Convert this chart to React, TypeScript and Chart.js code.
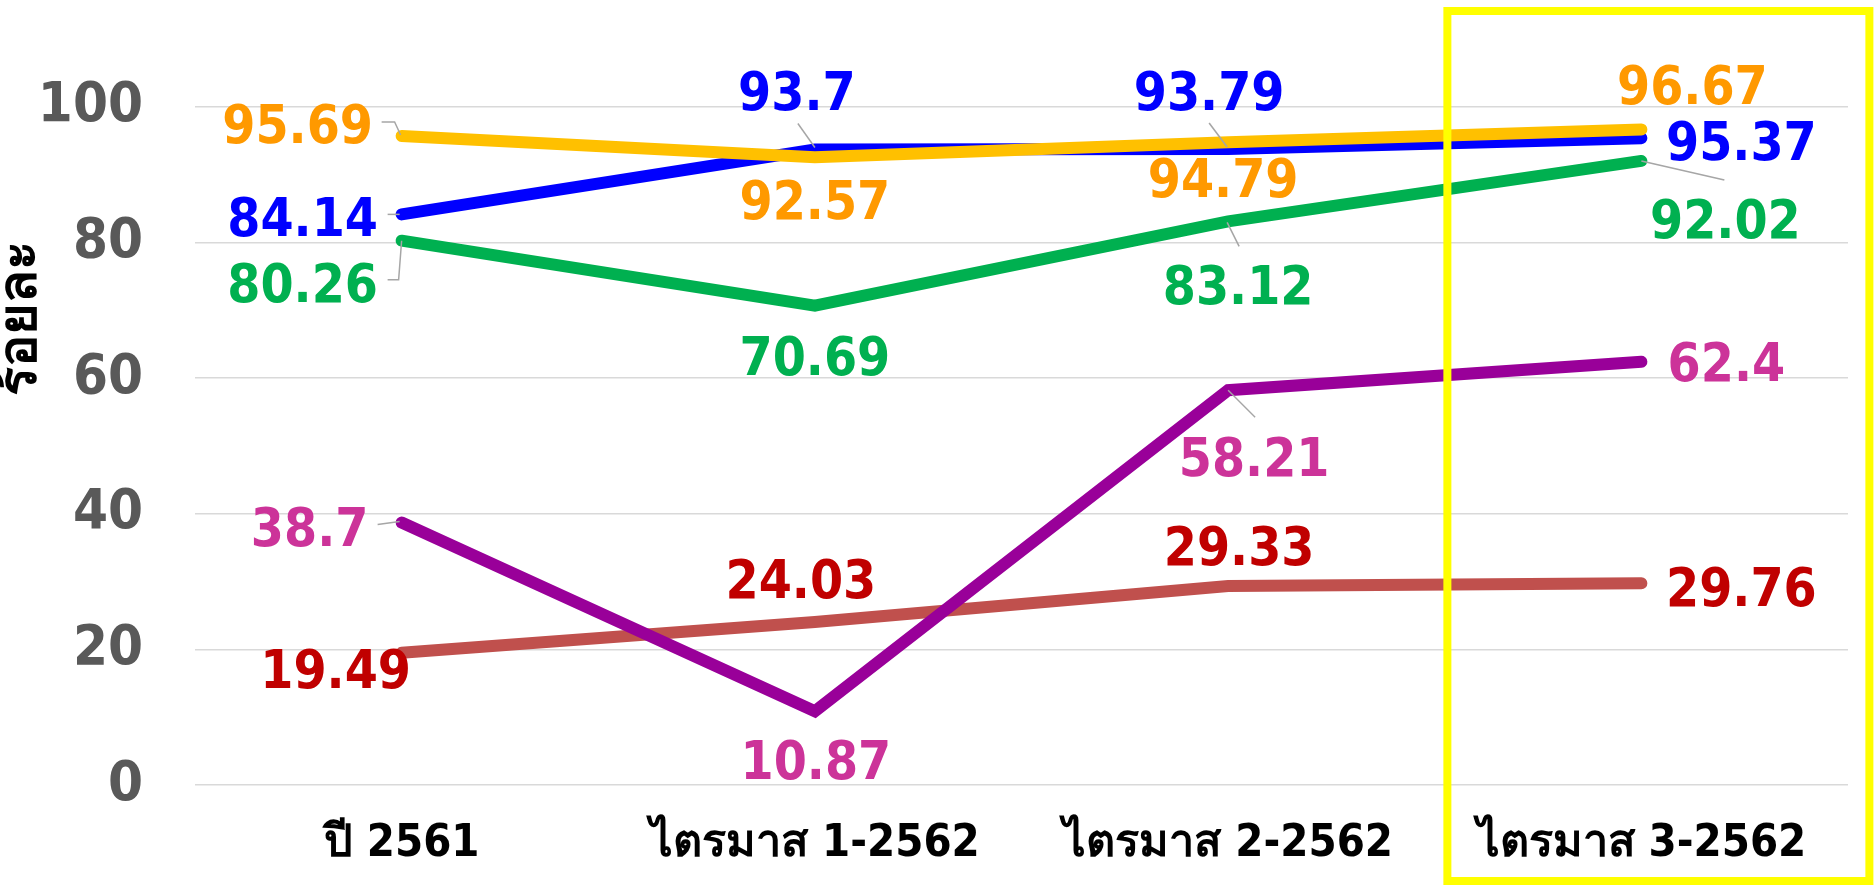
import React, { useEffect, useRef } from "react";
import { Chart, registerables } from "chart.js";

Chart.register(...registerables);

// ---- data ----
const categories = ["ปี 2561", "ไตรมาส 1-2562", "ไตรมาส 2-2562", "ไตรมาส 3-2562"];
const blueValues = [84.14, 93.7, 93.79, 95.37];
const yellowValues = [95.69, 92.57, 94.79, 96.67];
const greenValues = [80.26, 70.69, 83.12, 92.02];
const purpleValues = [38.7, 10.87, 58.21, 62.4];
const redValues = [19.49, 24.03, 29.33, 29.76];
const yTickValues = [0, 20, 40, 60, 80, 100];
const yTitle = "ร้อยละ";

// ---- label placement (pixel offsets from each point) ----
type Off = [number, number];
const blueLabelOffsets: Off[] = [[-99, 2], [-18, -59], [-19, -58], [100, 2]];
const yellowLabelOffsets: Off[] = [[-104, -12], [0, 42], [-5, 36], [51, -45]];
const greenLabelOffsets: Off[] = [[-99, 42], [0, 50], [10, 63], [84, 58]];
const purpleLabelOffsets: Off[] = [[-92, 4], [1, 48], [26, 66], [85, 0]];
const redLabelOffsets: Off[] = [[-66, 16], [-14, -43], [11, -40], [100, 4]];

// leader polylines relative to point (null = none)
const blueLeaders: (Off[] | null)[] = [[[-2, 0], [-14, 0]], [[0, -2], [-17, -26]], [[-1, -2], [-19, -26]], null];
const yellowLeaders: (Off[] | null)[] = [[[-1, -1], [-7, -14], [-20, -14]], null, null, null];
const greenLeaders: (Off[] | null)[] = [[[0, 0], [-3, 39], [-14, 39]], null, [[-1, 1], [11, 25]], [[0, 0], [83, 19]]];
const purpleLeaders: (Off[] | null)[] = [[[-2, -1], [-24, 2]], null, [[0, 0], [27, 27]], null];
const redLeaders: (Off[] | null)[] = [null, null, null, null];

const FAMILY = '"DejaVu Sans Condensed", "DejaVu Sans", sans-serif';

const seriesDefs = [
  { values: yellowValues, line: "#FFC000", label: "#FF9900", offs: yellowLabelOffsets, leaders: yellowLeaders },
  { values: purpleValues, line: "#990099", label: "#CC3399", offs: purpleLabelOffsets, leaders: purpleLeaders },
  { values: blueValues, line: "#0000FF", label: "#0000FF", offs: blueLabelOffsets, leaders: blueLeaders },
  { values: greenValues, line: "#00B050", label: "#00B050", offs: greenLabelOffsets, leaders: greenLeaders },
  { values: redValues, line: "#C0504D", label: "#C00000", offs: redLabelOffsets, leaders: redLeaders },
];

const labelPlugin = {
  id: "customLabels",
  afterDatasetsDraw(chart: any) {
    const ctx = chart.ctx as CanvasRenderingContext2D;
    const xs = chart.scales.x;
    const ys = chart.scales.y;
    ctx.save();
    // highlight box around last category
    ctx.strokeStyle = "#FFFF00";
    ctx.lineWidth = 8;
    const last = xs.getPixelForValue(categories.length - 1);
    ctx.strokeRect(last - 194, 11, 422, 870);

    // leaders
    ctx.strokeStyle = "#A6A6A6";
    ctx.lineWidth = 1.5;
    seriesDefs.forEach((s) => {
      s.values.forEach((v, i) => {
        const ld = s.leaders[i];
        if (!ld) return;
        const px = xs.getPixelForValue(i);
        const py = ys.getPixelForValue(v);
        ctx.beginPath();
        ld.forEach((p, k) => {
          if (k === 0) ctx.moveTo(px + p[0], py + p[1]);
          else ctx.lineTo(px + p[0], py + p[1]);
        });
        ctx.stroke();
      });
    });

    // value labels
    const size = 53;
    ctx.font = `bold ${size}px ${FAMILY}`;
    ctx.textAlign = "center";
    ctx.textBaseline = "alphabetic";
    seriesDefs.forEach((s) => {
      ctx.fillStyle = s.label;
      s.values.forEach((v, i) => {
        const px = xs.getPixelForValue(i);
        const py = ys.getPixelForValue(v);
        const [dx, dy] = s.offs[i];
        ctx.fillText(String(v), px + dx, py + dy + size * 0.3645);
      });
    });

    // y axis title
    ctx.translate(22, 318);
    ctx.rotate(-Math.PI / 2);
    ctx.font = `bold 54px ${FAMILY}`;
    ctx.fillStyle = "#000000";
    ctx.textBaseline = "middle";
    ctx.fillText(yTitle, 0, 0);
    ctx.restore();
  },
};

export default function App() {
  const ref = useRef<HTMLCanvasElement | null>(null);
  useEffect(() => {
    if (!ref.current) return;
    const chart = new Chart(ref.current, {
      type: "line",
      data: {
        labels: categories,
        datasets: seriesDefs.map((s) => ({
          data: s.values,
          borderColor: s.line,
          backgroundColor: s.line,
          borderWidth: 12,
          borderCapStyle: "round" as const,
          borderJoinStyle: "miter" as const,
          pointRadius: 0,
          pointHoverRadius: 0,
          fill: false,
          tension: 0,
        })),
      },
      options: {
        responsive: false,
        animation: false,
        layout: { padding: { top: 39, right: 26, left: 0, bottom: 0 } },
        plugins: { legend: { display: false }, tooltip: { enabled: false } },
        scales: {
          x: {
            offset: true,
            grid: { display: false, drawTicks: false },
            border: { display: false },
            ticks: {
              color: "#000000",
              font: { family: FAMILY, size: 45, weight: "bold" },
              padding: 32,
              maxRotation: 0,
              autoSkip: false,
            },
            afterFit: (s: any) => {
              s.height = 102;
              s.paddingLeft = 0;
              s.paddingRight = 0;
            },
          },
          y: {
            min: 0,
            max: 110,
            grid: { color: "#D9D9D9", lineWidth: 1.5, drawTicks: false },
            border: { display: false },
            ticks: {
              stepSize: 20,
              color: "#595959",
              font: { family: FAMILY, size: 56, weight: "bold" },
              padding: 52,
            },
            afterBuildTicks: (a: any) => {
              a.ticks = a.ticks.filter((t: any) => yTickValues.includes(t.value));
            },
            afterFit: (s: any) => {
              s.width = 195;
              s.paddingTop = 0;
              s.paddingBottom = 0;
            },
          },
        },
      },
      plugins: [labelPlugin],
    });
    return () => chart.destroy();
  }, []);
  return (
    <div style={{ position: "fixed", left: 0, top: 0, width: 1874, height: 887, background: "#fff" }}>
      <canvas ref={ref} width={1874} height={887} style={{ display: "block" }} />
    </div>
  );
}
